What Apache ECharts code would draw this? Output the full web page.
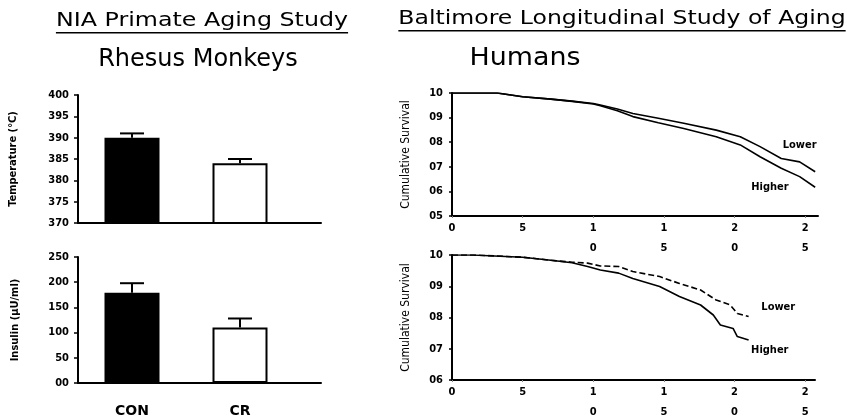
<!DOCTYPE html>
<html>
<head>
<meta charset="utf-8">
<script src="https://cdn.jsdelivr.net/npm/echarts@6/dist/echarts.min.js"></script>
<style>
  html, body { margin: 0; background: #fff; }
  #chart { width: 847px; height: 419px; }
</style>
</head>
<body>
<div id="chart"></div>
<script>
// monkeys: group means and SEM
const groups = ['CON', 'CR'];
const tempMean = [39.0, 38.4];
const tempErr = [0.1, 0.1];
const insulinMean = [179, 110];
const insulinErr = [19, 18];

// humans: [years, cumulative survival]
const tempLower = [[0, 1.0], [3.2, 1.0], [5, 0.985], [7, 0.975], [8.5, 0.967], [10, 0.957], [10.5, 0.951], [11.7, 0.935], [12.8, 0.917], [14.6, 0.897], [16.4, 0.877], [18.7, 0.849], [20.4, 0.822], [21.8, 0.782], [23.3, 0.734], [24.6, 0.72], [25.7, 0.68]];
const tempHigher = [[0, 1.0], [3.2, 1.0], [5, 0.985], [7, 0.975], [8.5, 0.966], [10, 0.955], [10.5, 0.948], [11.7, 0.928], [12.8, 0.904], [14.6, 0.879], [16.4, 0.856], [18.7, 0.822], [20.4, 0.789], [21.8, 0.741], [23.3, 0.694], [24.6, 0.66], [25.7, 0.617]];
const insLower = [[0, 1.0], [1.5, 1.0], [3, 0.997], [5, 0.993], [7, 0.983], [8.5, 0.977], [9.6, 0.974], [10.5, 0.965], [11.8, 0.963], [12.8, 0.947], [14.7, 0.931], [16.1, 0.909], [17.6, 0.888], [18.7, 0.856], [19.7, 0.84], [20.2, 0.813], [21.0, 0.803]];
const insHigher = [[0, 1.0], [1.5, 1.0], [3, 0.997], [5, 0.993], [7, 0.983], [8.5, 0.975], [9.6, 0.963], [10.5, 0.952], [11.8, 0.942], [12.8, 0.925], [14.7, 0.899], [16.1, 0.867], [17.6, 0.84], [18.5, 0.808], [19.0, 0.776], [19.9, 0.765], [20.2, 0.739], [21.0, 0.728]];
const yearTicks = [0, 5, 10, 15, 20, 25];

const narrow = '"Liberation Sans Narrow", "DejaVu Sans Condensed", sans-serif';
const titleFont = '"DejaVu Sans", sans-serif';

const chart = echarts.init(document.getElementById('chart'));

// labels in the scan have lost their decimal point
const noDot = v => v.toFixed(1).replace('.', '');

const tickLabel = { color: '#000', fontFamily: narrow, fontWeight: 'bold', fontSize: 11 };
const blackLine = { lineStyle: { color: '#000', width: 2 } };

function barYAxis(idx, min, max, interval, name, fmt, gap) {
  return {
    type: 'value', gridIndex: idx, min, max, interval,
    name, nameLocation: 'middle', nameGap: gap,
    nameTextStyle: { color: '#000', fontFamily: narrow, fontWeight: 'bold', fontSize: 11 },
    axisLine: { show: true, ...blackLine },
    axisTick: { show: true, length: 4, lineStyle: { color: '#000', width: 1.5 } },
    axisLabel: { ...tickLabel, margin: 9, formatter: fmt },
    splitLine: { show: false }
  };
}

function barXAxis(idx, showLabels) {
  return {
    type: 'value', gridIndex: idx, min: 0.5, max: 2.75,
    axisLine: { show: true, onZero: false, ...blackLine },
    axisTick: { show: false },
    axisLabel: {
      show: showLabels, customValues: [1, 2], margin: 21,
      color: '#000', fontFamily: titleFont, fontWeight: 'bold', fontSize: 14,
      formatter: v => groups[v - 1]
    },
    splitLine: { show: false }
  };
}

function survYAxis(idx, min) {
  return {
    type: 'value', gridIndex: idx, min, max: 1, interval: 0.1,
    name: 'Cumulative Survival', nameLocation: 'middle', nameGap: 40,
    nameTextStyle: { color: '#000', fontFamily: narrow, fontSize: 12 },
    axisLine: { show: true, ...blackLine },
    axisTick: { show: true, length: 3, lineStyle: { color: '#000', width: 1.5 } },
    axisLabel: { ...tickLabel, margin: 9, formatter: noDot },
    splitLine: { show: false }
  };
}

function survXAxis(idx, max) {
  return {
    type: 'value', gridIndex: idx, min: 0, max, interval: 5,
    axisLine: { show: true, onZero: false, ...blackLine },
    axisTick: { show: true, customValues: yearTicks, length: 2, lineStyle: { color: '#888', width: 1 } },
    axisLabel: {
      ...tickLabel, customValues: yearTicks, margin: 2, lineHeight: 20,
      formatter: v => String(v).split('').join('\n')
    },
    splitLine: { show: false }
  };
}

function bars(idx, means, errs) {
  return [{
    type: 'bar', xAxisIndex: idx, yAxisIndex: idx, barWidth: 55,
    data: means.map((m, i) => ({
      value: [i + 1, m],
      itemStyle: { color: i === 0 ? '#000' : '#fff', borderColor: '#000', borderWidth: 2 }
    })),
    z: 2
  }, {
    type: 'custom', xAxisIndex: idx, yAxisIndex: idx, z: 1,
    data: means.map((m, i) => [i + 1, m, errs[i]]),
    renderItem(params, api) {
      const p0 = api.coord([api.value(0), api.value(1)]);
      const p1 = api.coord([api.value(0), api.value(1) + api.value(2)]);
      const st = { stroke: '#000', lineWidth: 2 };
      return {
        type: 'group', children: [
          { type: 'line', shape: { x1: p0[0], y1: p0[1], x2: p1[0], y2: p1[1] }, style: st },
          { type: 'line', shape: { x1: p1[0] - 12, y1: p1[1], x2: p1[0] + 12, y2: p1[1] }, style: st }
        ]
      };
    }
  }];
}

function curve(idx, data, dashed, label, at) {
  return {
    type: 'line', xAxisIndex: idx, yAxisIndex: idx, data, symbol: 'none',
    lineStyle: { color: '#000', width: 1.6, type: dashed ? [6, 3] : 'solid' },
    silent: true,
    markPoint: {
      symbol: 'circle', symbolSize: 1, itemStyle: { color: 'transparent' },
      label: { show: true, position: 'inside', formatter: label, color: '#000', fontFamily: narrow, fontWeight: 'bold', fontSize: 11 },
      data: [{ coord: at }]
    }
  };
}

// titles (scanned font is wider than DejaVu, so stretch it a bit)
const measure = document.createElement('canvas').getContext('2d');
function title(text, cx, cy, size, stretch, underline) {
  const out = [{
    type: 'text', x: cx, y: cy, scaleX: stretch,
    style: { text, fill: '#000', fontFamily: titleFont, fontSize: size, textAlign: 'center', textVerticalAlign: 'middle' }
  }];
  if (underline) {
    measure.font = size + 'px ' + titleFont;
    const w = measure.measureText(text).width * stretch;
    out.push({
      type: 'line',
      shape: { x1: cx - w / 2, y1: cy + size * 0.62, x2: cx + w / 2, y2: cy + size * 0.62 },
      style: { stroke: '#000', lineWidth: 1.5 }
    });
  }
  return out;
}

const option = {
  animation: false,
  backgroundColor: '#fff',
  graphic: [
    ...title('NIA Primate Aging Study', 202, 21, 19, 1.25, true),
    ...title('Rhesus Monkeys', 198, 60, 24, 1, false),
    ...title('Baltimore Longitudinal Study of Aging', 622, 19, 19, 1.24, true),
    ...title('Humans', 525, 59, 24, 1.12, false)
  ],
  grid: [
    { left: 78, top: 95, width: 243, height: 128, outerBoundsMode: 'none' },
    { left: 78, top: 257, width: 243, height: 126, outerBoundsMode: 'none' },
    { left: 452, top: 93, width: 366, height: 123, outerBoundsMode: 'none' },
    { left: 452, top: 255, width: 363, height: 125, outerBoundsMode: 'none' }
  ],
  xAxis: [barXAxis(0, false), barXAxis(1, true), survXAxis(2, 25.9), survXAxis(3, 25.7)],
  yAxis: [
    barYAxis(0, 37, 40, 0.5, 'Temperature (°C)', noDot, 59),
    barYAxis(1, 0, 250, 50, 'Insulin (μU/ml)', v => (v === 0 ? '00' : String(v)), 57),
    survYAxis(2, 0.5),
    survYAxis(3, 0.6)
  ],
  series: [
    ...bars(0, tempMean, tempErr),
    ...bars(1, insulinMean, insulinErr),
    curve(2, tempLower, false, 'Lower', [24.6, 0.789]),
    curve(2, tempHigher, false, 'Higher', [22.5, 0.618]),
    curve(3, insLower, true, 'Lower', [23.1, 0.834]),
    curve(3, insHigher, false, 'Higher', [22.5, 0.696])
  ]
};

chart.setOption(option);
</script>
</body>
</html>
